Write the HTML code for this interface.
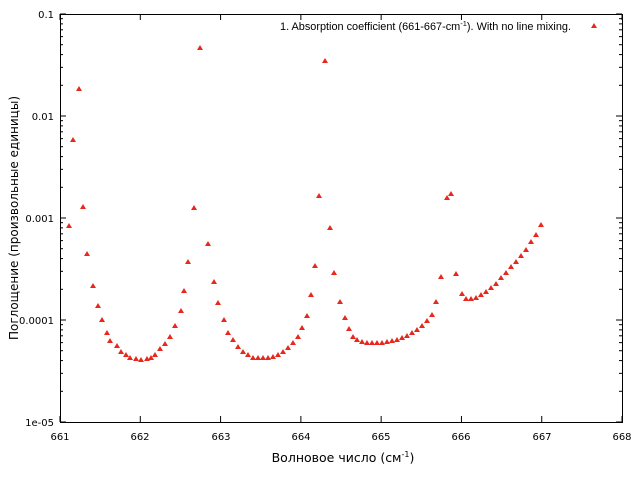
<!DOCTYPE html>
<html><head><meta charset="utf-8"><style>body{margin:0;background:#fff}svg{display:block}text{font-family:"DejaVu Sans","Liberation Sans",sans-serif;fill:#000}</style></head>
<body>
<svg width="640" height="480" viewBox="0 0 640 480" xmlns="http://www.w3.org/2000/svg">
<rect x="0" y="0" width="640" height="480" fill="#fff"/>
<g id="ticks" stroke="#000" stroke-width="1"></g>
<rect x="60.5" y="14.5" width="562" height="408" fill="none" stroke="#000" stroke-width="1"/>
<g font-size="10" text-anchor="end">
<text x="54" y="18">0.1</text><text x="54" y="120">0.01</text><text x="54" y="222">0.001</text><text x="54" y="324">0.0001</text><text x="54" y="426">1e-05</text>
</g>
<g font-size="10" text-anchor="middle">
<text x="60" y="440">661</text><text x="140" y="440">662</text><text x="221" y="440">663</text><text x="301" y="440">664</text><text x="381" y="440">665</text><text x="461" y="440">666</text><text x="542" y="440">667</text><text x="622" y="440">668</text>
</g>
<text x="343" y="462" font-size="12.5" text-anchor="middle">Волновое число (см<tspan dy="-5" font-size="8">-1</tspan><tspan dy="5">)</tspan></text>
<text transform="translate(18,218) rotate(-90)" font-size="12" text-anchor="middle">Поглощение (произвольные единицы)</text>
<text x="571" y="30" font-size="10.9" text-anchor="end" style="font-family:'Liberation Sans',sans-serif">1. Absorption coefficient (661-667-cm<tspan dy="-4" font-size="7.5">-1</tspan><tspan dy="4">). With no line mixing.</tspan></text>
<g id="pts" fill="#e8281c"></g>
</svg>
<script>
var t=document.getElementById('ticks'),s='';
for(var i=0;i<8;i++){var x=60+i*80.29;s+='<line x1="'+x+'" y1="422" x2="'+x+'" y2="416"/><line x1="'+x+'" y1="14" x2="'+x+'" y2="20"/>';}
for(var d=0;d<4;d++){for(var m=1;m<=10;m++){var y=422-102*(d+Math.log10(m));var L=(m==1||m==10)?6:3;s+='<line x1="60" y1="'+y+'" x2="'+(60+L)+'" y2="'+y+'"/><line x1="622" y1="'+y+'" x2="'+(622-L)+'" y2="'+y+'"/>';}}
t.innerHTML=s;
var p=[[69,226],[73,140],[79,89],[83,207],[87,254],[93,286],[98,306],[102,320],[107,333],[110,341],[117,346],[121,352],[126,355],[130,358],[136,359],[141,360],[147,359],[151,358],[155,355],[160,349],[165,344],[170,337],[175,326],[181,311],[184,291],[188,262],[194,208],[200,48],[208,244],[214,282],[218,303],[224,320],[228,333],[233,340],[238,347],[243,352],[248,355],[253,358],[258,358],[263,358],[268,358],[273,357],[278,355],[283,352],[288,348],[293,343],[298,337],[302,328],[307,316],[311,295],[315,266],[319,196],[325,61],[330,228],[334,273],[340,302],[345,318],[349,329],[353,337],[357,340],[362,342],[367,343],[372,343],[377,343],[382,343],[387,342],[392,341],[397,340],[402,338],[407,336],[412,333],[417,330],[422,326],[427,321],[432,315],[436,302],[441,277],[447,198],[451,194],[456,274],[462,294],[466,299],[471,299],[476,298],[481,295],[486,292],[491,288],[496,284],[501,278],[506,273],[511,267],[516,262],[521,256],[526,250],[531,242],[536,235],[541,225],[594,26]];
var h='';p.forEach(function(q){h+='<polygon points="'+q[0]+','+(q[1]-3)+' '+(q[0]-3)+','+(q[1]+2)+' '+(q[0]+3)+','+(q[1]+2)+'"/>';});
document.getElementById('pts').innerHTML=h;
</script>
</body></html>
